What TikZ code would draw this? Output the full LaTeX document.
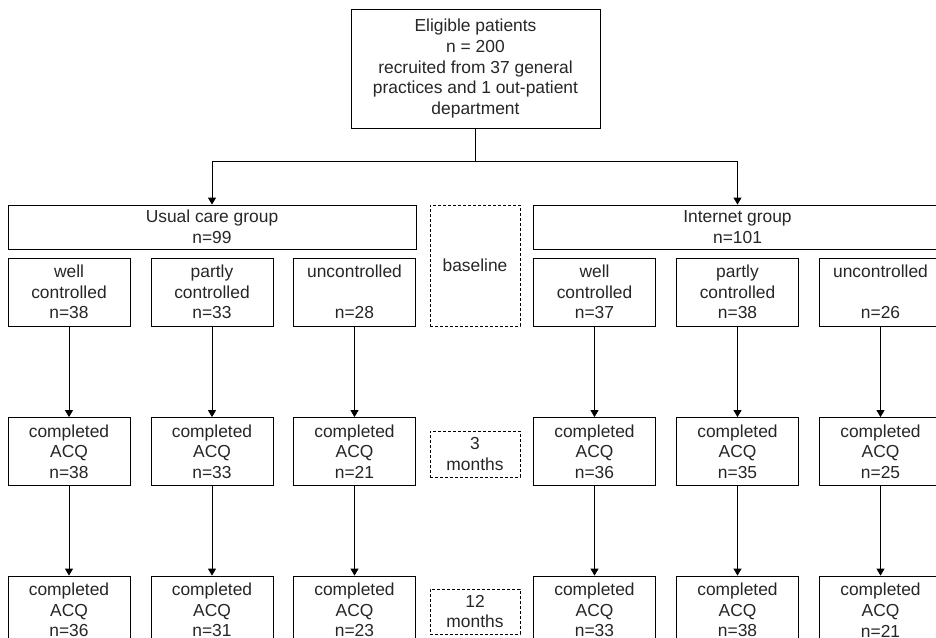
\documentclass[tikz,border=0pt]{standalone}
\usepackage{fontspec}
\setmainfont{Liberation Sans}
\usetikzlibrary{arrows.meta}
\begin{document}
\begin{tikzpicture}[x=1pt,y=-1pt,
  font=\fontsize{17.4}{20.7}\selectfont,
  box/.style={draw,line width=0.8pt,align=center,inner sep=0pt,text=black!85},
  subbox/.style={box,minimum width=122pt,minimum height=68pt},
  timebox/.style={box,dash pattern=on 3pt off 2pt,line width=0.6pt,minimum width=90pt},
  arr/.style={line width=0.8pt,-{Triangle[width=8pt,length=7pt]}}]
\path[use as bounding box,clip] (0,0) rectangle (936,637);
\node[box,minimum width=249pt,minimum height=119pt] (elig) at (475.5,68.5)
  {Eligible patients\\n = 200\\recruited from 37 general\\practices and 1 out-patient\\department};
\coordinate (split) at (475.5,161);
\node[box,minimum width=408pt,minimum height=44pt] (usual) at (212,227) {Usual care group\\n=99};
\node[box,minimum width=409pt,minimum height=44pt] (inet) at (737.5,227) {Internet group\\n=101};
\draw[line width=0.8pt] (elig) -- (split);
\draw[arr] (split) -| (usual);
\draw[arr] (split) -| (inet);
% baseline
\node[subbox] (u1) at (69,292) {well\\controlled\\n=38};
\node[subbox] (u2) at (212,292) {partly\\controlled\\n=33};
\node[subbox] (u3) at (354.5,292) {uncontrolled\\~\\n=28};
\node[subbox] (i1) at (594.5,292) {well\\controlled\\n=37};
\node[subbox] (i2) at (737.5,292) {partly\\controlled\\n=38};
\node[subbox] (i3) at (880.5,292) {uncontrolled\\~\\n=26};
\node[timebox,minimum height=121pt] (t0) at (475,265.5) {baseline};
% 3 months
\node[subbox] (u1b) at (69,451.5) {completed\\ACQ\\n=38};
\node[subbox] (u2b) at (212,451.5) {completed\\ACQ\\n=33};
\node[subbox] (u3b) at (354.5,451.5) {completed\\ACQ\\n=21};
\node[subbox] (i1b) at (594.5,451.5) {completed\\ACQ\\n=36};
\node[subbox] (i2b) at (737.5,451.5) {completed\\ACQ\\n=35};
\node[subbox] (i3b) at (880.5,451.5) {completed\\ACQ\\n=25};
\node[timebox,minimum height=46pt] (t1) at (475,454) {3\\months};
% 12 months
\node[subbox] (u1c) at (69,610) {completed\\ACQ\\n=36};
\node[subbox] (u2c) at (212,610) {completed\\ACQ\\n=31};
\node[subbox] (u3c) at (354.5,610) {completed\\ACQ\\n=23};
\node[subbox] (i1c) at (594.5,610) {completed\\ACQ\\n=33};
\node[subbox] (i2c) at (737.5,610) {completed\\ACQ\\n=38};
\node[subbox] (i3c) at (880.5,610) {completed\\ACQ\\n=21};
\node[timebox,minimum height=45pt] (t2) at (475,611.5) {12\\months};
\foreach \n in {u1,u2,u3,i1,i2,i3} {
  \draw[arr] (\n) -- (\n b);
  \draw[arr] (\n b) -- (\n c);
}
\end{tikzpicture}
\end{document}
